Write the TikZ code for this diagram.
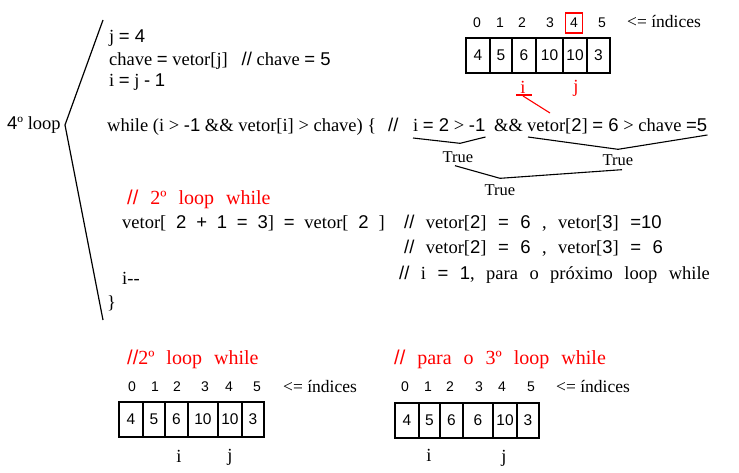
\documentclass[tikz,border=0pt]{standalone}
\usepackage{fontspec}
\setmainfont{Liberation Serif}
\setsansfont{Liberation Sans}
\usetikzlibrary{positioning}
\newcommand{\sn}[1]{{\sffamily #1}}

\begin{document}
\begin{tikzpicture}[x=1pt,y=-1pt,
	codeline/.style={anchor=base west,inner sep=0pt,font=\fontsize{18.5}{22}\selectfont},
	wideline/.style={codeline,font={\fontsize{18.5}{22}\selectfont\spaceskip=0.62em\relax}},
	redline/.style={codeline,text=red,font={\fontsize{20}{22}\selectfont\spaceskip=0.6em\relax}},
	idx/.style={inner sep=0pt,font=\sffamily\fontsize{14}{16}\selectfont},
	idxtext/.style={codeline,font=\fontsize{17.5}{20}\selectfont},
	cellval/.style={inner sep=0pt,font=\sffamily\fontsize{15.5}{17}\selectfont},
	cellbox/.style={line width=1.3pt},
	truebrace/.style={line width=1.1pt},
	truelabel/.style={inner sep=0pt,font=\fontsize{16.5}{18}\selectfont},
	ptr/.style={inner sep=0pt,font=\fontsize{18.5}{20}\selectfont}]
	\useasboundingbox (0,0) rectangle (739,473);

	% outer loop bracket
	\node[codeline] (loop) at (7,130) {\sn{4}º loop};
	\coordinate (bt) at (103,20);
	\coordinate (bm) at (65,125);
	\coordinate (bb) at (103,320);
	\draw[line width=1.2pt] (bt) -- (bm) -- (bb);

	% body of the 4th loop
	\node[codeline] (jset) at (109,43) {j \sn{= 4}};
	\node[codeline] (chave) at (109,66) {chave \sn{=} vetor[j]\ \ \ \sn{//} chave \sn{= 5}};
	\node[codeline] (iset) at (109,87) {i \sn{=} j \sn{-} \sn{1}};
	\node[codeline] (while) at (107,132) {while (i > \sn{-1} \&\& vetor[i] > chave) \{};
	\node[codeline] (cmt) at (388,132) {\sn{//}};
	\node[codeline] (cnd1) at (413,132) {i \sn{= 2} > \sn{-1}};
	\node[codeline] (amp) at (494,132) {\&\&};
	\node[codeline] (cnd2) at (527,132) {vetor[\sn{2}] \sn{= 6} > chave \sn{=5}};

	% True braces
	\node[truelabel] (t1) at (458,157) {True};
	\node[truelabel] (t2) at (618,160) {True};
	\node[truelabel] (t3) at (500,190) {True};
	\draw[truebrace] ([shift={(0,6)}]cnd1.base west) -- ([shift={(2,-8)}]t1.north) -- ([shift={(0,5)}]cnd1.base east);
	\draw[truebrace] ([shift={(1,5)}]cnd2.base west) -- ([shift={(0,-5)}]t2.north) -- ([shift={(0,3)}]cnd2.base east);
	\draw[truebrace] ([shift={(-3,3)}]t1.south) -- ([shift={(0,-6)}]t3.north) -- ([shift={(4,4)}]t2.south);

	% inner while, 2nd pass
	\node[redline] (w2) at (127,205) {\sn{//}\ 2º loop while};
	\node[wideline,font={\fontsize{18.5}{22}\selectfont\spaceskip=0.53em\relax}] (copy) at (122,229) {vetor[ \sn{2 + 1 = 3}] \sn{=} vetor[ \sn{2} ]};
	\node[wideline] (r1) at (404,229) {\sn{//} vetor[\sn{2}] \sn{= 6} , vetor[\sn{3}] \sn{=10}};
	\node[wideline] (r2) at (404,254) {\sn{//} vetor[\sn{2}] \sn{= 6} , vetor[\sn{3}] \sn{= 6}};
	\node[codeline] (dec) at (122,284) {i-{}-};
	\node[wideline] (r3) at (399,279) {\sn{//} i \sn{= 1}, para o próximo loop while};
	\node[codeline] (close) at (107,308) {\}};

	% array at the top
	\foreach \v/\x [count=\k from 0] in {0/477,1/500,2/522,3/550,5/602}
		\node[idx] (ta\k) at (\x,23) {\v};
	\node[idx,draw=red,line width=1.2pt,minimum width=17,minimum height=20] (ta4) at (574,23) {4};
	\node[idxtext] (tidx) at (627,28) {<= índices};
	\foreach \a/\b/\v [count=\k] in {466/490/4,490/512/5,512/536/6,536/563/10,563/587/10,587/610/3}{
		\draw[cellbox] (\a,38) rectangle (\b,73);
		\node[cellval] (tc\k) at ({(\a+\b)/2},55) {\v};
	}
	\node[ptr,text=red] (ti) at (523,87) {i};
	\node[ptr,text=red] (tj) at (576,88) {j};
	\coordinate (tu) at (523,96);
	\draw[red,line width=1.1pt] (516,95) -- (532,95);
	\draw[red,line width=1.1pt] (tu) -- (550,113);

	% array after the 2nd pass
	\node[redline] (bl) at (127,364) {\sn{//}2º loop while};
	\foreach \v/\x in {0/132,1/155,2/177,3/205,4/229,5/257}
		\node[idx] (la\v) at (\x,387) {\v};
	\node[idxtext] (lidx) at (283,392) {<= índices};
	\foreach \a/\b/\v [count=\k] in {119/143/4,143/165/5,165/188/6,188/218/10,218/242/10,242/264/3}{
		\draw[cellbox] (\a,402) rectangle (\b,437);
		\node[cellval] (lc\k) at ({(\a+\b)/2},419) {\v};
	}
	\node[ptr] (li) at (179,456) {i};
	\node[ptr] (lj) at (230,457) {j};

	% array for the 3rd pass
	\node[redline] (br) at (394,364) {\sn{//} para o 3º loop while};
	\foreach \v/\x in {0/405,1/428,2/450,3/479,4/502,5/531}
		\node[idx] (ra\v) at (\x,387) {\v};
	\node[idxtext] (ridx) at (556,392) {<= índices};
	\foreach \a/\b/\v [count=\k] in {395/419/4,419/440/5,440/463/6,463/493/6,493/517/10,517/539/3}{
		\draw[cellbox] (\a,403) rectangle (\b,438);
		\node[cellval] (rc\k) at ({(\a+\b)/2},420) {\v};
	}
	\node[ptr] (ri) at (429,455) {i};
	\node[ptr] (rj) at (504,458) {j};
\end{tikzpicture}
\end{document}
